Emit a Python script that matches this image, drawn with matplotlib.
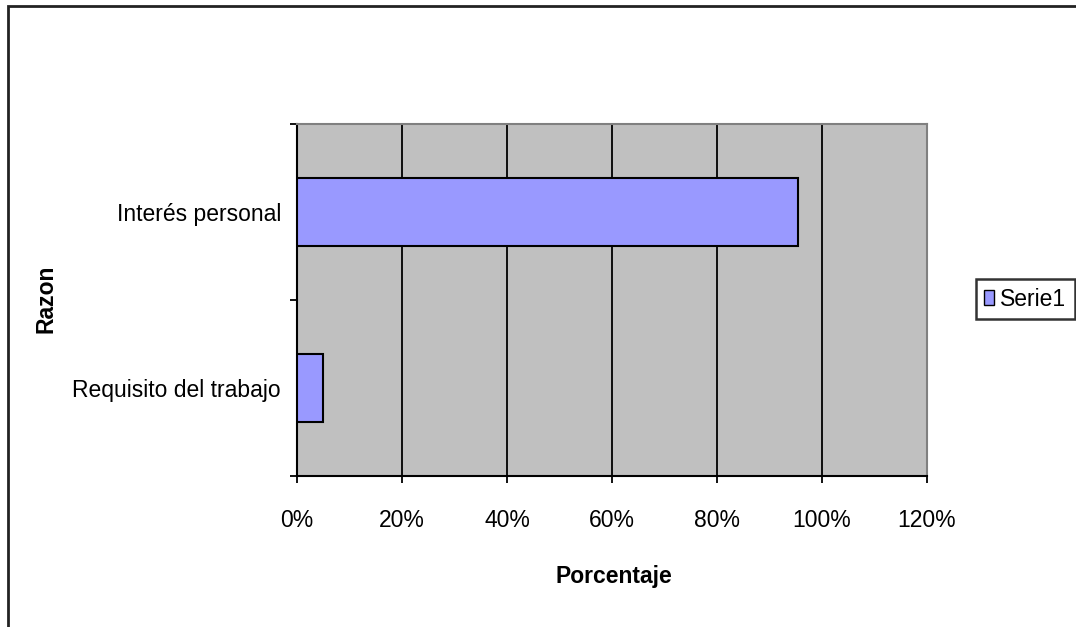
import matplotlib
matplotlib.use("Agg")
import matplotlib.pyplot as plt
from matplotlib.patches import Rectangle, Patch

categories = ["Requisito del trabajo", "Interés personal"]
values = [0.05, 0.955]
xticks = [0, 0.2, 0.4, 0.6, 0.8, 1.0, 1.2]
xticklabels = ["0%", "20%", "40%", "60%", "80%", "100%", "120%"]
series_name = "Serie1"

plt.rcParams['font.family'] = ['Liberation Sans', 'DejaVu Sans']

W, H = 1076, 627
fig = plt.figure(figsize=(W / 100, H / 100), dpi=100)
fig.patch.set_facecolor('white')

# outer chart border
fig.patches.append(Rectangle((8 / W, -0.05), 1.2, 1 - 6 / H + 0.05, transform=fig.transFigure,
                             fill=False, edgecolor='#222222', linewidth=2.0))

left, right, top, bottom = 297, 927, 124, 476
ax = fig.add_axes([left / W, 1 - bottom / H, (right - left) / W, (bottom - top) / H])
ax.set_facecolor('#C0C0C0')

ypos = [i + 0.5 for i in range(len(categories))]
ax.barh(ypos, values, height=0.39, color='#9999FF', edgecolor='black', linewidth=1.5,
        zorder=3, label=series_name)

FS = 16.5
ax.set_xlim(0, 1.2)
ax.set_ylim(0, len(categories))
ax.set_xticks(xticks)
ax.set_xticklabels(xticklabels, fontsize=FS)
ax.xaxis.grid(True, color='black', linewidth=1.3, zorder=1)
ax.set_axisbelow(True)

ax.set_yticks(range(len(categories) + 1))
ax.set_yticklabels([])
ax.set_yticks(ypos, minor=True)
ax.set_yticklabels(categories, minor=True, fontsize=FS)
ax.tick_params(axis='y', which='minor', length=0, pad=11.5)
ax.tick_params(axis='y', which='major', length=5, width=1.3, direction='out')
ax.tick_params(axis='x', length=5, width=1.3, direction='out', pad=19)

for s in ['left', 'bottom']:
    ax.spines[s].set_color('black')
    ax.spines[s].set_linewidth(1.5)
for s in ['top', 'right']:
    ax.spines[s].set_color('#808080')
    ax.spines[s].set_linewidth(1.5)

fig.text(614 / W, 1 - 583 / H, "Porcentaje", fontsize=FS, fontweight='bold',
         ha='center', va='baseline')
fig.text(46 / W, 1 - 299 / H, "Razon", fontsize=FS, fontweight='bold',
         ha='center', va='center', rotation=90)

leg = fig.legend(handles=[Patch(facecolor='#9999FF', edgecolor='black', label=series_name)],
                 loc='center', bbox_to_anchor=(1025.5 / W, 1 - 299 / H), fontsize=FS,
                 frameon=True, fancybox=False, edgecolor='black', handlelength=0.4,
                 handleheight=0.6, handletextpad=0.3, borderpad=0.35, borderaxespad=0)
leg.get_frame().set_linewidth(1.8)

fig.savefig("out.png", dpi=100)
